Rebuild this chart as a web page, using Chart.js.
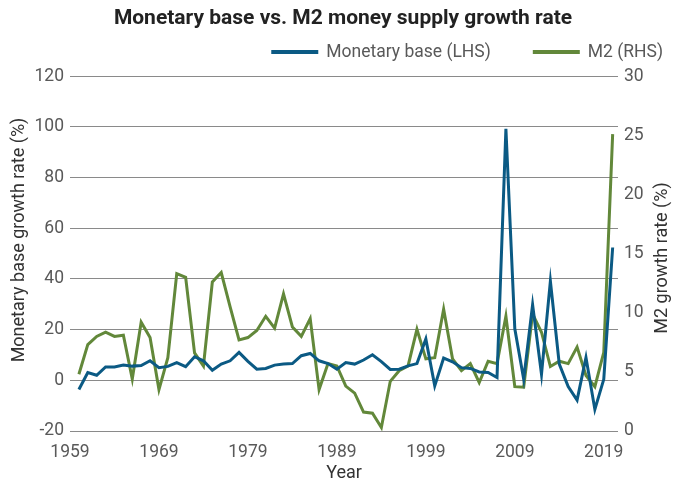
<!DOCTYPE html>
<html><head><meta charset="utf-8">
<script src="https://cdn.jsdelivr.net/npm/chart.js@4.4.1/dist/chart.umd.min.js"></script>
<style>html,body{margin:0;padding:0;background:#fff}#wrap{width:686px;height:484px}</style>
</head><body><div id="wrap"><canvas id="c" width="686" height="484"></canvas></div>
<script>
const years = [1960,1961,1962,1963,1964,1965,1966,1967,1968,1969,
  1970,1971,1972,1973,1974,1975,1976,1977,1978,1979,
  1980,1981,1982,1983,1984,1985,1986,1987,1988,1989,
  1990,1991,1992,1993,1994,1995,1996,1997,1998,1999,
  2000,2001,2002,2003,2004,2005,2006,2007,2008,2009,
  2010,2011,2012,2013,2014,2015,2016,2017,2018,2019,2020];
const monetaryBase = [-3.6,3.1,2.0,5.3,5.3,6.0,5.6,5.8,7.7,5.0,
  5.5,7.0,5.4,9.3,7.7,4.0,6.4,7.7,11.0,7.5,
  4.4,4.7,6.0,6.4,6.6,9.7,10.6,7.7,6.6,4.4,
  7.0,6.4,8.0,10.1,7.4,4.3,4.4,5.7,6.6,16.3,
  -2.2,8.8,7.3,5.0,4.7,3.3,3.1,1.1,99.2,20.3,
  0.4,29.8,2.4,39.1,6.4,-2.5,-7.8,9.0,-11.5,0.4,52.4];
const m2 = [4.8,7.3,8.0,8.35,8.0,8.1,4.4,9.2,7.9,3.5,
  6.2,13.3,13.0,6.6,5.5,12.6,13.4,10.5,7.7,7.9,
  8.5,9.7,8.7,11.6,8.8,8.0,9.5,3.5,5.7,5.5,
  3.8,3.2,1.6,1.5,0.3,4.2,5.1,5.5,8.6,6.1,
  6.2,10.3,6.1,5.1,5.7,4.1,5.9,5.7,9.7,3.75,
  3.7,9.9,8.35,5.45,5.9,5.7,7.1,4.7,3.75,6.65,25.1];
const xTickLabels = [1959,1969,1979,1989,1999,2009,2019];
const seriesNames = ['Monetary base (LHS)','M2 (RHS)'];
const axisTitles = {left: 'Monetary base growth rate (%)', right: 'M2 growth rate (%)', x: 'Year'};

const FONT = 'Roboto, "Noto Sans", sans-serif';
const BLUE = '#0b5a84', GREEN = '#62883a';

// custom legend + rotated axis titles (both reading bottom-to-top like the reference)
const decor = {
  id: 'decor',
  afterDraw(chart) {
    const ctx = chart.ctx;
    ctx.save();
    ctx.font = '17.5px ' + FONT;
    ctx.textBaseline = 'middle';
    ctx.textAlign = 'left';
    const ly = 52, lineW = 47, gapT = 8, gapItems = 42;
    let xr = 663;
    const items = chart.data.datasets.map(d => ({label: d.label, color: d.borderColor}));
    const pos = [];
    for (let i = items.length - 1; i >= 0; i--) {
      const tw = ctx.measureText(items[i].label).width;
      const tx = xr - tw;
      const lx = tx - gapT - lineW;
      pos[i] = {lx, tx};
      xr = lx - gapItems;
    }
    items.forEach((it, i) => {
      ctx.strokeStyle = it.color; ctx.lineWidth = 4; ctx.lineCap = 'butt';
      ctx.beginPath(); ctx.moveTo(pos[i].lx, ly); ctx.lineTo(pos[i].lx + lineW, ly); ctx.stroke();
      ctx.fillStyle = '#595959';
      ctx.fillText(it.label, pos[i].tx, ly + 1);
    });
    ctx.fillStyle = '#333';
    ctx.font = '18px ' + FONT;
    ctx.textAlign = 'center';
    ctx.save(); ctx.translate(19, 240); ctx.rotate(-Math.PI/2); ctx.fillText(axisTitles.left, 0, 0); ctx.restore();
    ctx.save(); ctx.translate(662, 258); ctx.rotate(-Math.PI/2); ctx.fillText(axisTitles.right, 0, 0); ctx.restore();
    ctx.restore();
  }
};

new Chart(document.getElementById('c'), {
  type: 'line',
  data: {
    datasets: [
      {label: seriesNames[0], data: years.map((y,i)=>({x:y,y:monetaryBase[i]})), yAxisID:'y',
       borderColor: BLUE, backgroundColor: BLUE, borderWidth: 3, pointRadius: 0, tension: 0},
      {label: seriesNames[1], data: years.map((y,i)=>({x:y,y:m2[i]})), yAxisID:'y1',
       borderColor: GREEN, backgroundColor: GREEN, borderWidth: 3, pointRadius: 0, tension: 0}
    ]
  },
  options: {
    responsive: false, animation: false, devicePixelRatio: 1,
    layout: {padding: 0},
    plugins: {
      title: {display: true, text: 'Monetary base vs. M2 money supply growth rate',
        color: '#222', font: {family: FONT, size: 21, weight: 'bold'}, padding: {top: 6, bottom: 45}},
      legend: {display: false},
      tooltip: {enabled: false}
    },
    scales: {
      x: {type: 'linear', min: 1959, max: 2020.6,
        afterBuildTicks: s => { s.ticks = xTickLabels.map(v => ({value: v})); },
        afterFit: s => { s.height = 53; },
        ticks: {callback: v => String(v), color: '#595959', font: {family: FONT, size: 17.5},
          maxRotation: 0, autoSkip: false, padding: 3},
        grid: {display: false}, border: {display: false},
        title: {display: true, text: axisTitles.x, color: '#333', font: {family: FONT, size: 18}, padding: 0}},
      y: {position: 'left', min: -20, max: 120,
        afterFit: s => { s.width = 70; },
        ticks: {stepSize: 20, color: '#595959', font: {family: FONT, size: 17.5}, padding: 6},
        grid: {color: '#8a8a8a', lineWidth: 1, drawTicks: false}, border: {display: false}},
      y1: {position: 'right', min: 0, max: 30,
        afterFit: s => { s.width = 68; },
        ticks: {stepSize: 5, color: '#595959', font: {family: FONT, size: 17.5}, padding: 6},
        grid: {display: false, drawTicks: false}, border: {display: false}}
    }
  },
  plugins: [decor]
});
</script></body></html>
